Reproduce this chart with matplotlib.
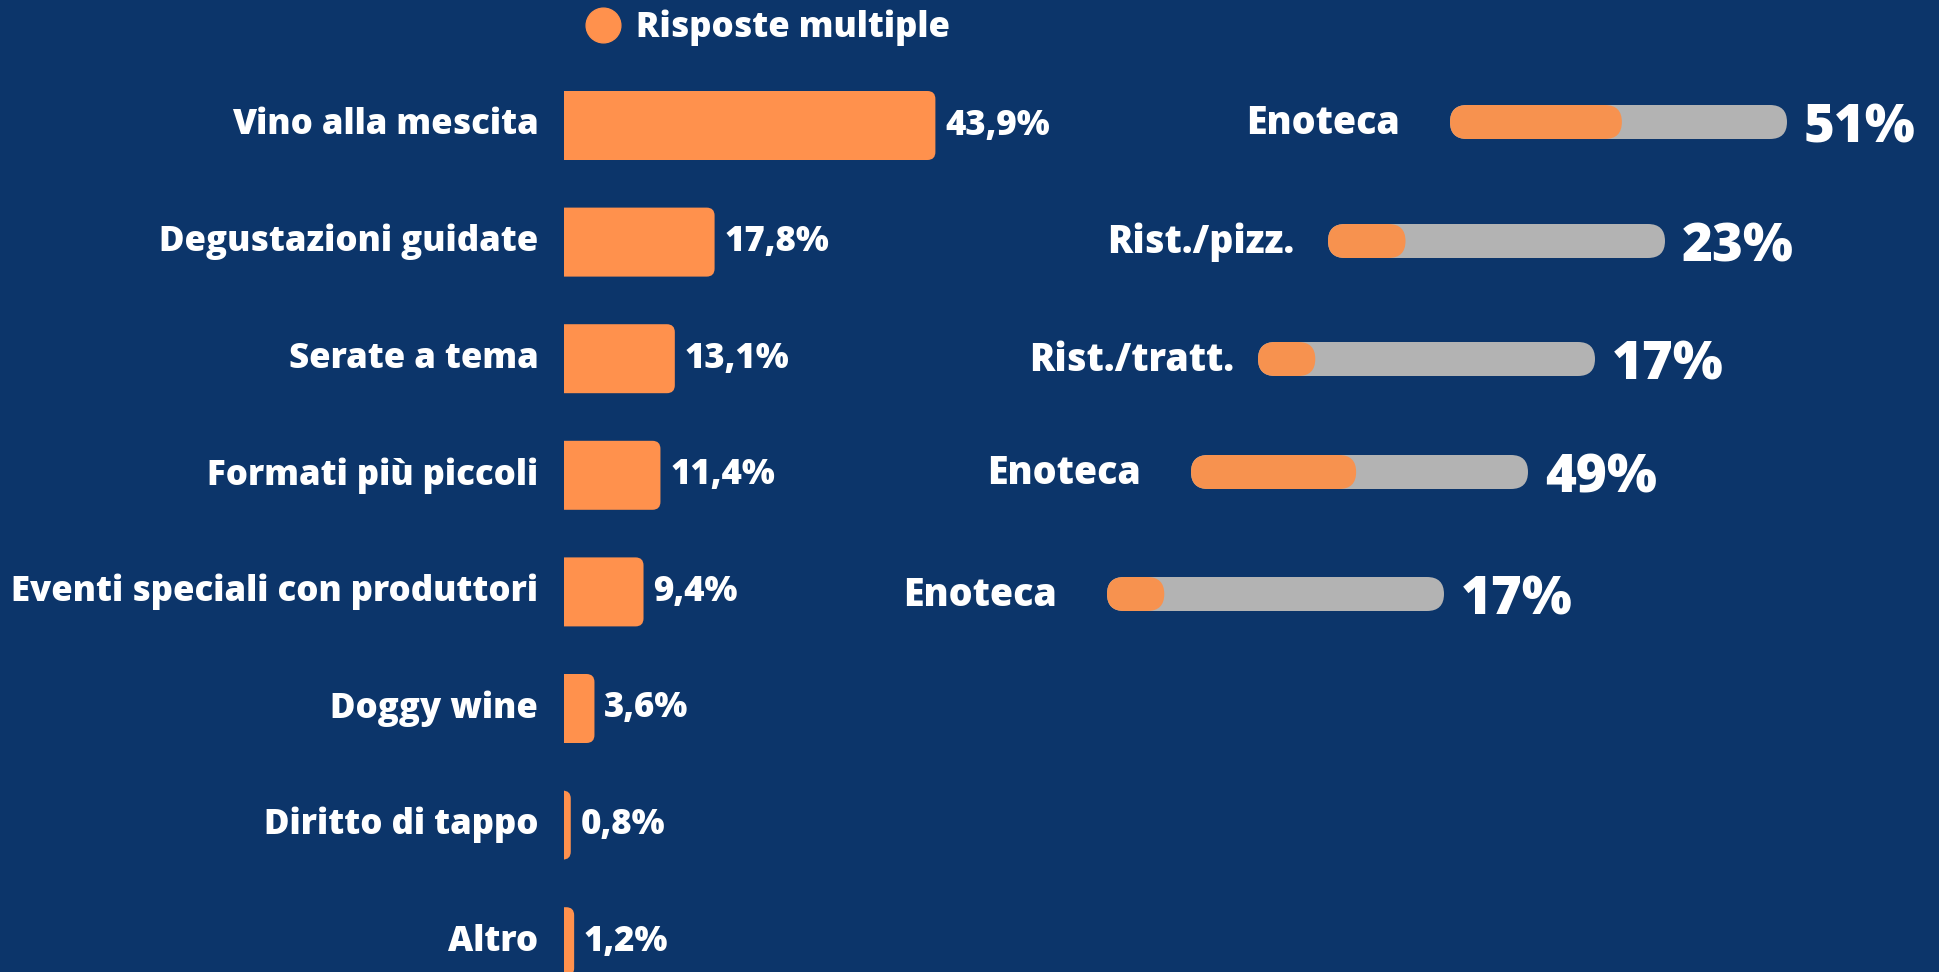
import matplotlib.pyplot as plt
from matplotlib.patches import FancyBboxPatch
from matplotlib.lines import Line2D

# data
categories = ["Vino alla mescita", "Degustazioni guidate", "Serate a tema",
              "Formati più piccoli", "Eventi speciali con produttori",
              "Doggy wine", "Diritto di tappo", "Altro"]
shares = [43.9, 17.8, 13.1, 11.4, 9.4, 3.6, 0.8, 1.2]
share_labels = ["43,9%", "17,8%", "13,1%", "11,4%", "9,4%", "3,6%", "0,8%", "1,2%"]

venues = ["Enoteca", "Rist./pizz.", "Rist./tratt.", "Enoteca", "Enoteca"]
venue_values = [51, 23, 17, 49, 17]

legend_label = "Risposte multiple"

# style
W, H = 1939, 972
BG = "#0C356A"
ORANGE = "#FF914D"
ORANGE2 = "#F7924F"
GREY = "#B3B3B3"
FONT = "Open Sans"
WEIGHT = 800  # extra bold

plt.rcParams['font.family'] = [FONT, 'DejaVu Sans']
plt.rcParams['font.weight'] = WEIGHT

fig = plt.figure(figsize=(W / 100, H / 100), dpi=100, facecolor=BG)


def px_axes(x0, y_top, w, h):
    """Axes placed with pixel coordinates measured from the top left"""
    ax = fig.add_axes([x0 / W, 1 - (y_top + h) / H, w / W, h / H])
    ax.set_facecolor('none')
    for s in ax.spines.values():
        s.set_visible(False)
    return ax


# left chart: horizontal bars with a rounded right end
px_per_pct = 8.46
pitch = 116.6
first_row = 125.5
xmax = 50
ax = px_axes(564, 0, xmax * px_per_pct, H)
ax.set_xlim(0, xmax)
ax.set_ylim((H - first_row) / pitch, -first_row / pitch)
ax.set_xticks([])

bar_h = 69 / pitch
r = 8 / px_per_pct
for i, v in enumerate(shares):
    # start left of zero so only the right corners show rounded
    bar = FancyBboxPatch((-2 * r, i - bar_h / 2), v + 2 * r, bar_h,
                         boxstyle=f"round,pad=0,rounding_size={r}",
                         mutation_aspect=px_per_pct / pitch,
                         fc=ORANGE, ec='none')
    ax.add_patch(bar)
    ax.annotate(share_labels[i], (v, i), xytext=(7, 0), textcoords='offset points',
                ha='left', va='center', color='white', fontsize=25, fontweight=WEIGHT)

ax.set_yticks(range(len(categories)), categories)
ax.tick_params(axis='y', length=0, pad=18.5, labelsize=25, labelcolor='white')
for lab in ax.get_yticklabels():
    lab.set_va('center')
    lab.set_fontweight(WEIGHT)

handle = Line2D([], [], marker='o', ls='', ms=25, color=ORANGE)
fig.legend([handle], [legend_label], loc='center left',
           bbox_to_anchor=(586 / W, 1 - 28 / H), frameon=False,
           handlelength=1, handletextpad=0.45, borderpad=0, borderaxespad=0,
           prop={'family': FONT, 'weight': WEIGHT, 'size': 25}, labelcolor='white')

# right chart: progress bars, one small axes per row
row_x = [1450, 1328, 1258, 1191, 1107]
row_y = [122, 241, 359, 472, 594]
label_gap = [36, 24, 17, 36, 36]
track_w, track_h = 337, 34

for i, (name, val) in enumerate(zip(venues, venue_values)):
    rax = px_axes(row_x[i], row_y[i] - track_h / 2, track_w, track_h)
    rax.set_xlim(0, 100)
    rax.set_ylim(0, 1)
    rax.set_xticks([])
    rax.set_yticks([])
    rr = (track_h / 2) / (track_w / 100)
    asp = (track_w / 100) / track_h
    track = FancyBboxPatch((0, 0), 100, 1, boxstyle=f"round,pad=0,rounding_size={rr}",
                           mutation_aspect=asp, fc=GREY, ec='none', clip_on=False)
    fill = FancyBboxPatch((0, 0), val, 1, boxstyle=f"round,pad=0,rounding_size={rr}",
                          mutation_aspect=asp, fc=ORANGE2, ec='none', clip_on=False)
    rax.add_patch(track)
    rax.add_patch(fill)
    rax.annotate(name, (0, 0.5), xytext=(-label_gap[i], -1), textcoords='offset points',
                 ha='right', va='center', color='white', fontsize=27, fontweight=WEIGHT)
    rax.annotate(f"{val}%", (100, 0.5), xytext=(12, -5), textcoords='offset points',
                 ha='left', va='center', color='white', fontsize=38, fontweight=WEIGHT)

fig.savefig('out.png', dpi=100, facecolor=BG)
